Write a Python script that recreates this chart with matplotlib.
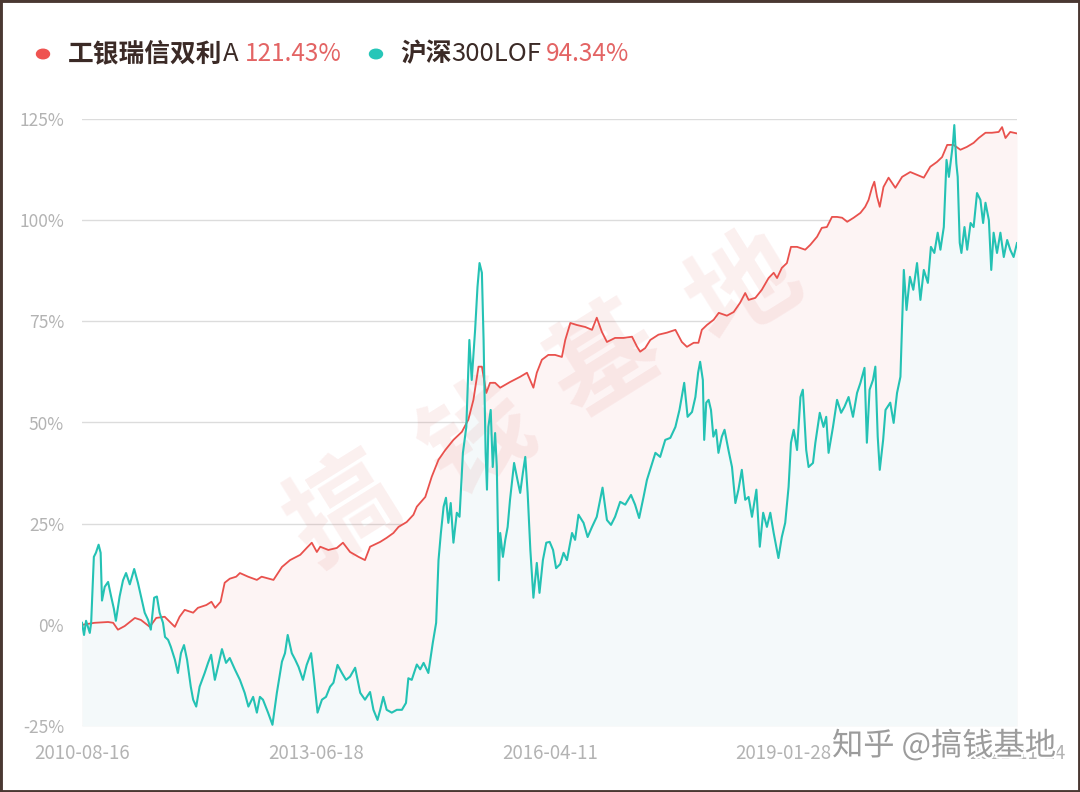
import matplotlib
matplotlib.use("Agg")
import matplotlib.pyplot as plt
import matplotlib.patheffects as pe
from matplotlib.patches import Rectangle, Circle

plt.rcParams['font.family'] = ['Noto Sans CJK SC', 'DejaVu Sans']

# ---- data (trading-day index, cumulative return %) ----
fund_name_cn = "工银瑞信双利"
fund_name_latin = "A"
fund_final = "121.43%"
index_name_cn = "沪深"
index_name_latin = "300LOF"
index_final = "94.34%"

tick_pos = [0, 690, 1380, 2070, 2759]
tick_labels = ["2010-08-16", "2013-06-18", "2016-04-11", "2019-01-28", "2021-11-24"]
y_ticks = [-25, 0, 25, 50, 75, 100, 125]

fund_x = [0, 37, 77, 92, 106, 126, 156, 174, 200, 219, 244, 262, 274, 288, 303, 328, 342,
          367, 382, 393, 409, 421, 436, 455, 466, 490, 516, 530, 565, 590, 614, 644, 663,
          678, 693, 703, 727, 752, 770, 791, 816, 835, 850, 880, 899, 919, 934, 958, 978,
          988, 1013, 1032, 1052, 1072, 1096, 1121, 1140, 1155, 1170, 1180, 1193, 1204, 1219,
          1234, 1263, 1293, 1313, 1332, 1342, 1357, 1376, 1396, 1416, 1426, 1441, 1460, 1485,
          1505, 1519, 1534, 1549, 1573, 1598, 1623, 1638, 1647, 1662, 1677, 1701, 1726, 1751,
          1770, 1785, 1805, 1819, 1829, 1844, 1864, 1879, 1903, 1923, 1942, 1957, 1967, 1987,
          2006, 2026, 2041, 2051, 2065, 2080, 2092, 2110, 2134, 2149, 2169, 2183, 2198, 2213,
          2228, 2243, 2258, 2277, 2297, 2311, 2321, 2331, 2338, 2346, 2354, 2365, 2380, 2400,
          2420, 2444, 2464, 2484, 2503, 2523, 2538, 2553, 2572, 2592, 2611, 2631, 2646, 2666,
          2685, 2705, 2715, 2725, 2739, 2759]
fund_y = [0, 0.5, 0.7, 0.5, -1.2, -0.3, 1.7, 1.2, -0.5, 1.7, 2, 0.5, -0.5, 2, 3.7, 3, 4.2,
          4.9, 5.7, 4.2, 5.7, 10.4, 11.4, 11.9, 12.8, 11.9, 11.1, 11.9, 11.1, 14.3, 16, 17.3, 19,
          20.3, 18, 19.3, 18.5, 19, 20.3, 18, 16.8, 16, 19.3, 20.5, 21.5, 22.7, 24.2, 25.4, 27.2,
          29.2, 31.6, 36.6, 40.8, 43.2, 45.7, 47.7, 50.7, 55.6, 63.8, 63.8, 57.3, 59.8, 59.8,
          58.6, 60, 61.3, 62.3, 58.6, 62.3, 65.5, 66.7, 66.7, 66.2, 70.4, 74.6, 74.1, 73.6,
          72.9, 75.9, 72.4, 69.9, 70.9, 70.9, 71.2, 68.7, 67.5, 68.4, 70.4, 71.7, 72.2, 72.9,
          69.9, 68.7, 69.7, 69.7, 72.9, 74.1, 75.4, 77.1, 76.4, 77.3, 79.6, 82, 80.3, 80.8,
          82.8, 85.7, 87, 85.7, 88.2, 89.4, 93.4, 93.4, 92.7, 93.9, 95.9, 98.1, 98.3, 100.8,
          100.8, 100.6, 99.6, 100.6, 101.8, 103.3, 105, 108, 109.5, 105.8, 103.3, 108.2, 110.5, 108,
          110.7, 111.9, 111.2, 110.5, 113.2, 114.4, 115.6, 118.6, 118.6, 117.4, 118.1, 119.1, 120.3, 121.6,
          121.6, 121.8, 123, 120.3, 121.8, 121.43]

index_x = [0, 6, 12, 23, 27, 35, 41, 49, 55, 59, 67, 77, 86, 94, 100, 111, 121, 130, 141, 154,
           165, 177, 185, 195, 203, 213, 221, 229, 239, 245, 254, 262, 274, 283, 292, 301, 310,
           321, 328, 337, 347, 362, 372, 381, 392, 401, 413, 425, 436, 451, 466, 480, 491, 505,
           516, 525, 534, 549, 562, 575, 590, 599, 607, 619, 629, 639, 652, 663, 676, 685, 695,
           708, 720, 732, 742, 754, 767, 779, 791, 806, 821, 835, 850, 860, 872, 880, 889, 899,
           914, 929, 944, 956, 963, 973, 988, 998, 1008, 1022, 1035, 1045, 1052, 1059, 1067, 1074,
           1081, 1088, 1096, 1106, 1114, 1124, 1134, 1143, 1150, 1160, 1167, 1173, 1180, 1185, 1191,
           1195, 1199, 1206, 1212, 1219, 1224, 1230, 1234, 1242, 1249, 1256, 1263, 1275, 1285, 1293,
           1301, 1308, 1315, 1323, 1332, 1342, 1350, 1360, 1370, 1380, 1390, 1399, 1411, 1421, 1431,
           1446, 1455, 1465, 1480, 1492, 1505, 1519, 1536, 1549, 1561, 1573, 1588, 1603, 1620, 1632,
           1644, 1657, 1667, 1679, 1692, 1706, 1721, 1736, 1751, 1763, 1777, 1787, 1800, 1810, 1818,
           1824, 1832, 1836, 1842, 1849, 1856, 1863, 1871, 1878, 1888, 1896, 1908, 1918, 1928, 1937,
           1947, 1957, 1967, 1977, 1990, 2000, 2010, 2021, 2031, 2041, 2055, 2065, 2075, 2085, 2092,
           2100, 2110, 2120, 2127, 2137, 2144, 2157, 2164, 2177, 2188, 2196, 2203, 2216, 2228, 2240,
           2250, 2262, 2275, 2287, 2297, 2309, 2316, 2324, 2334, 2341, 2348, 2354, 2364, 2371, 2385,
           2395, 2405, 2415, 2425, 2433, 2443, 2453, 2464, 2474, 2484, 2496, 2505, 2515, 2525, 2533,
           2543, 2551, 2558, 2564, 2570, 2574, 2580, 2584, 2590, 2595, 2604, 2612, 2622, 2631, 2641,
           2651, 2659, 2666, 2676, 2683, 2690, 2700, 2710, 2720, 2730, 2739, 2749, 2759]
index_y = [0.5, -2.5, 1, -2, 0.5, 16.8, 17.8, 19.8, 17.8, 6, 9.4, 10.6, 7, 4, 1, 7, 11, 12.8, 10, 13.8,
           10.4, 6, 3, 1.2, -1.2, 6.7, 7, 3, 0.5, -3, -3.7, -5.4, -8.6, -11.9, -7, -5, -8.6,
           -15.3, -18.5, -20.2, -15.3, -11.9, -9.4, -7.4, -13.6, -10.4, -6, -9.4, -8.2, -11, -13.6, -16.8, -20.2, -17.8,
           -21.7, -17.8, -18.5, -21.7, -24.7, -16.8, -9.1, -7, -2.5, -7, -8.6, -10.4, -13.6, -9.9, -7, -13.6, -21.7,
           -18.5, -17.8, -15.3, -14.3, -9.9, -11.9, -13.6, -12.8, -10.6, -16.8, -18.5, -16.6, -21, -23.5, -21, -17.8, -21,
           -21.7, -21, -21, -19.3, -13.2, -13.6, -9.8, -11, -9.4, -11.9, -4.5, 0.5, 16, 22.7, 29.2, 31.4,
           25.2, 30.1, 20.3, 27.7, 26.7, 42.5, 48.9, 70.4, 60.5, 72.9, 83.5, 89.4, 87, 70.4, 42.5,
           33.4, 48.9, 53.1, 39, 47.4, 39, 11, 22.7, 16.8, 21, 24.2, 30.9, 40, 35.8, 32.6,
           37.6, 41.5, 32.6, 18.5, 6.7, 15.3, 7.9, 16, 20.3, 20.5, 18.5, 14, 15, 17.8, 16,
           22.7, 21, 27.2, 25.2, 21.7, 24.2, 26.7, 33.9, 25.9, 24.7, 26.7, 30.4, 29.7, 32.1, 29.7,
           26.4, 31.6, 35.8, 39, 42.5, 41.5, 45.7, 46.2, 48.9, 53.1, 59.8, 51.4, 52.6, 56.3, 62.3,
           65, 60.5, 45.7, 54.9, 55.6, 53.1, 46.5, 48.2, 42.5, 46.5, 48.2, 43, 39, 30.1, 33.4,
           38.3, 30.9, 31.6, 26.7, 33.4, 19.3, 27.7, 24.2, 27.7, 22.7, 16.5, 21.7, 25.2, 34.1, 45,
           48.2, 43.2, 56.3, 58.1, 43.2, 39, 40, 45, 52.4, 48.9, 51.4, 42.5, 48.9, 55.6, 52.4,
           53.9, 56.3, 51.4, 57.3, 59.8, 63.5, 45, 58.1, 60.5, 63.8, 46.5, 38.3, 45.7, 53.1, 54.9,
           49.9, 57.3, 61.3, 87.7, 77.8, 86, 82.8, 89.4, 80.3, 87.7, 84.5, 93.4, 91.9, 96.9, 92.7,
           98.3, 114.9, 110.7, 114.9, 119, 123.5, 114, 110.7, 94.4, 91.9, 98.3, 92.7, 99.3, 98.3, 106.7,
           105, 99.3, 104.3, 100, 87.7, 96.9, 91.9, 96.9, 90.9, 95.1, 92.7, 90.9, 94.34]

RED = '#e9514d'
TEAL = '#24c2b4'

W, H = 1080, 792
fig = plt.figure(figsize=(W / 100, H / 100), dpi=100)
fig.patch.set_facecolor('white')

ax = fig.add_axes([82 / W, 1 - 726 / H, (1017 - 82) / W, (726 - 119) / H])
ax.set_xlim(0, 2759)
ax.set_ylim(-25, 125)

for yv in y_ticks:
    ax.axhline(yv, color='#dcdcdc', lw=1.0, zorder=0)

ax.fill_between(fund_x, fund_y, -25, color='#fdf4f4', lw=0, zorder=1)
ax.fill_between(index_x, index_y, -25, color='#f4f9fa', lw=0, zorder=1.1)

# large diagonal watermark (between fills and lines)
for ch, (cx, cy) in zip("搞钱基地", [(345, 512), (478, 440), (605, 362), (745, 290)]):
    ax.text(cx / W, 1 - cy / H, ch, transform=fig.transFigure, fontsize=78,
            fontweight='bold', color='#d9534f', alpha=0.09, rotation=32,
            ha='center', va='center', zorder=2, clip_on=False)

ax.plot(fund_x, fund_y, color=RED, lw=1.3, zorder=3)
ax.plot(index_x, index_y, color=TEAL, lw=1.5, zorder=4)

for s in ax.spines.values():
    s.set_visible(False)
ax.set_yticks(y_ticks)
ax.set_yticklabels([f"{v}%" for v in y_ticks])
ax.set_xticks(tick_pos)
ax.set_xticklabels(tick_labels)
ax.tick_params(axis='both', length=0, colors='#b3b3b3')
ax.tick_params(axis='y', labelsize=12.5, pad=13)
ax.tick_params(axis='x', labelsize=13.5, pad=12)

# legend, pieces placed one after another
renderer = fig.canvas.get_renderer()
ly = 1 - 54 / H


def put(x_px, s, **kw):
    t = fig.text(x_px / W, ly, s, ha='left', va='center', **kw)
    bb = t.get_window_extent(renderer=renderer)
    return bb.x1


LS = 18.5
fig.add_artist(Circle((43 / W, ly), 6.5 / W, transform=fig.transFigure, color='#ef5350', zorder=5))
x = put(68, fund_name_cn, fontsize=LS, fontweight='bold', color='#3b2a26')
x = put(x, fund_name_latin, fontsize=LS, color='#3b2a26')
put(245, fund_final, fontsize=17.5, color='#e36464')

fig.add_artist(Circle((376 / W, ly), 6.5 / W, transform=fig.transFigure, color='#26c6b8', zorder=5))
x = put(400, index_name_cn, fontsize=LS, fontweight='bold', color='#3b2a26')
x = put(x, index_name_latin, fontsize=LS, color='#3b2a26')
put(546, index_final, fontsize=17.5, color='#e36464')

# platform watermark
fig.text(1056 / W, 1 - 746 / H, "知乎 @搞钱基地", fontsize=22.5, color='#9c9c9c',
         ha='right', va='center', zorder=10,
         path_effects=[pe.withStroke(linewidth=3, foreground='white')])

# border
fig.add_artist(Rectangle((0, 0), 1, 1, transform=fig.transFigure, fill=False,
                         edgecolor='#4a3832', lw=3.5, zorder=20))

fig.savefig('out.png', dpi=100, facecolor='white')
